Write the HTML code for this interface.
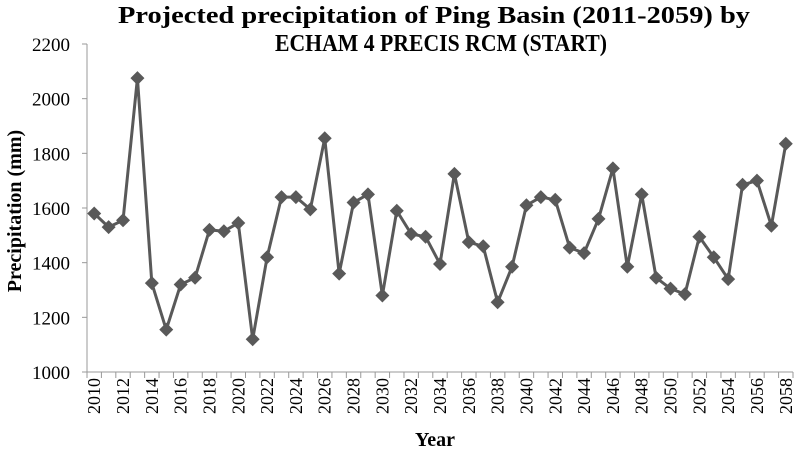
<!DOCTYPE html>
<html><head><meta charset="utf-8"><style>
body{margin:0;background:#fff;}
svg text{font-family:"Liberation Serif","Times New Roman",serif;fill:#000;}
</style></head><body>
<svg id="chart" width="800" height="455">
<text x="434" y="23" text-anchor="middle" font-family="Liberation Serif, serif" font-size="24" font-weight="bold" textLength="632" lengthAdjust="spacingAndGlyphs">Projected precipitation of Ping Basin (2011-2059) by</text>
<text x="441" y="51" text-anchor="middle" font-family="Liberation Serif, serif" font-size="24" font-weight="bold" textLength="332" lengthAdjust="spacingAndGlyphs">ECHAM 4 PRECIS RCM (START)</text>
<text transform="translate(21,211) rotate(-90)" text-anchor="middle" font-family="Liberation Serif, serif" font-size="20" font-weight="bold">Precipitation (mm)</text>
<text x="435" y="446" text-anchor="middle" font-family="Liberation Serif, serif" font-size="20" font-weight="bold">Year</text>
<g id="axes"></g>
<g id="series"></g>
</svg>
<script>
const years=[];for(let y=2010;y<=2058;y++)years.push(y);
const precipitation=[1580,1530,1555,2075,1325,1155,1320,1345,1520,1515,1545,1120,1420,1640,1640,1595,1855,1360,1620,1650,1280,1590,1505,1495,1395,1725,1475,1460,1255,1385,1610,1640,1630,1455,1435,1560,1745,1385,1650,1345,1305,1285,1495,1420,1340,1685,1700,1535,1835];
const yTicks=[1000,1200,1400,1600,1800,2000,2200];
const NS="http://www.w3.org/2000/svg";
const X0=87,X1=793,Y0=372,Y1=44;
const step=(X1-X0)/years.length;
const xs=i=>X0+step*(i+0.5);
const ys=v=>Y0-(v-1000)/1200*(Y0-Y1);
const axes=document.getElementById('axes'),ser=document.getElementById('series');
function mk(tag,attrs,parent){const e=document.createElementNS(NS,tag);for(const k in attrs)e.setAttribute(k,attrs[k]);parent.appendChild(e);return e;}
const ya=mk('line',{x1:X0,y1:Y1,x2:X0,y2:Y0,stroke:'#999','stroke-width':1},axes);


const xa=mk('line',{x1:X0,y1:Y0,x2:X1,y2:Y0,stroke:'#999','stroke-width':1},axes);


yTicks.forEach(v=>{
 const t=mk('line',{x1:X0-5,y1:ys(v),x2:X0,y2:ys(v),stroke:'#999'},axes);
 
 
 const l=mk('text',{x:X0-17,y:ys(v)+7,'text-anchor':'end','font-size':'19','font-family':'Liberation Serif, serif'},axes);
 l.textContent=v;
 
 
});
for(let i=0;i<=years.length;i++){
 const x=X0+step*i;
 const t=mk('line',{x1:x,y1:Y0,x2:x,y2:Y0+6,stroke:'#999'},axes);
 
 
}
years.forEach((y,i)=>{
 if(i%2)return;
 const l=mk('text',{transform:`translate(${xs(i)+6},${Y0+6}) rotate(-90)`,'text-anchor':'end','font-size':'18','font-family':'Liberation Serif, serif'},axes);
 l.textContent=y;
 
 
});
const pts=precipitation.map((v,i)=>xs(i)+','+ys(v)).join(' ');
const line=mk('polyline',{points:pts,fill:'none',stroke:'#595959','stroke-width':3,'stroke-linejoin':'round'},ser);


precipitation.forEach((v,i)=>{
 const x=xs(i),y=ys(v),r=7;
 const m=mk('polygon',{points:`${x},${y-r} ${x+r},${y} ${x},${y+r} ${x-r},${y}`,fill:'#595959'},ser);
 
 
});
</script>
</body></html>
